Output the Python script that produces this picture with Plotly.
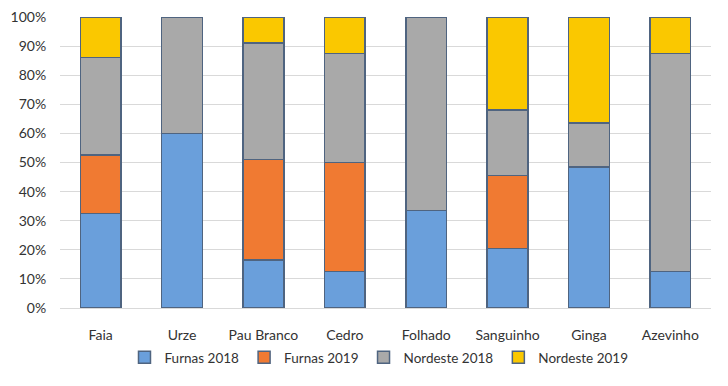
import plotly.graph_objects as go

categories = ["Faia", "Urze", "Pau Branco", "Cedro", "Folhado", "Sanguinho", "Ginga", "Azevinho"]
furnas_2018 = [32.5, 60, 16.5, 12.5, 33.5, 20.5, 48.5, 12.5]
furnas_2019 = [20, 0, 34.5, 37.5, 0, 25, 0, 0]
nordeste_2018 = [33.5, 40, 40, 37.5, 66.5, 22.5, 15, 75]
nordeste_2019 = [14, 0, 9, 12.5, 0, 32, 36.5, 12.5]

series = [
    ("Furnas 2018", furnas_2018, "#6a9fdb"),
    ("Furnas 2019", furnas_2019, "#f07a32"),
    ("Nordeste 2018", nordeste_2018, "#a9a9a9"),
    ("Nordeste 2019", nordeste_2019, "#fac800"),
]

fig = go.Figure()
for name, vals, col in series:
    fig.add_trace(go.Bar(
        name=name, x=categories, y=vals,
        marker=dict(color=col, line=dict(color="#4f6480", width=1.5)),
        width=0.5,
    ))

fig.update_layout(
    barmode="stack",
    width=720, height=378,
    margin=dict(l=52, r=17, t=9, b=78, autoexpand=False),
    paper_bgcolor="white", plot_bgcolor="white",
    font=dict(family="Lato, Open Sans, sans-serif", size=14, color="#333333"),
    legend=dict(orientation="h", x=0.49, xanchor="center", y=-0.17, yanchor="middle",
                font=dict(size=13.5), itemwidth=30, traceorder="normal"),
    showlegend=True,
)
fig.update_yaxes(range=[0, 100], tickvals=list(range(0, 101, 10)),
                 ticktext=[f"{v}%" for v in range(0, 101, 10)],
                 showgrid=True, gridcolor="#d9d9d9", gridwidth=1, zeroline=False,
                 showline=False, ticks="outside", ticklen=10, tickcolor="rgba(0,0,0,0)",
                 ticklabeloverflow="allow")
fig.update_xaxes(showline=True, linecolor="#d9d9d9", ticks="outside", ticklen=14,
                 tickcolor="rgba(0,0,0,0)", tickfont=dict(size=14))

fig.write_html("out.html")
